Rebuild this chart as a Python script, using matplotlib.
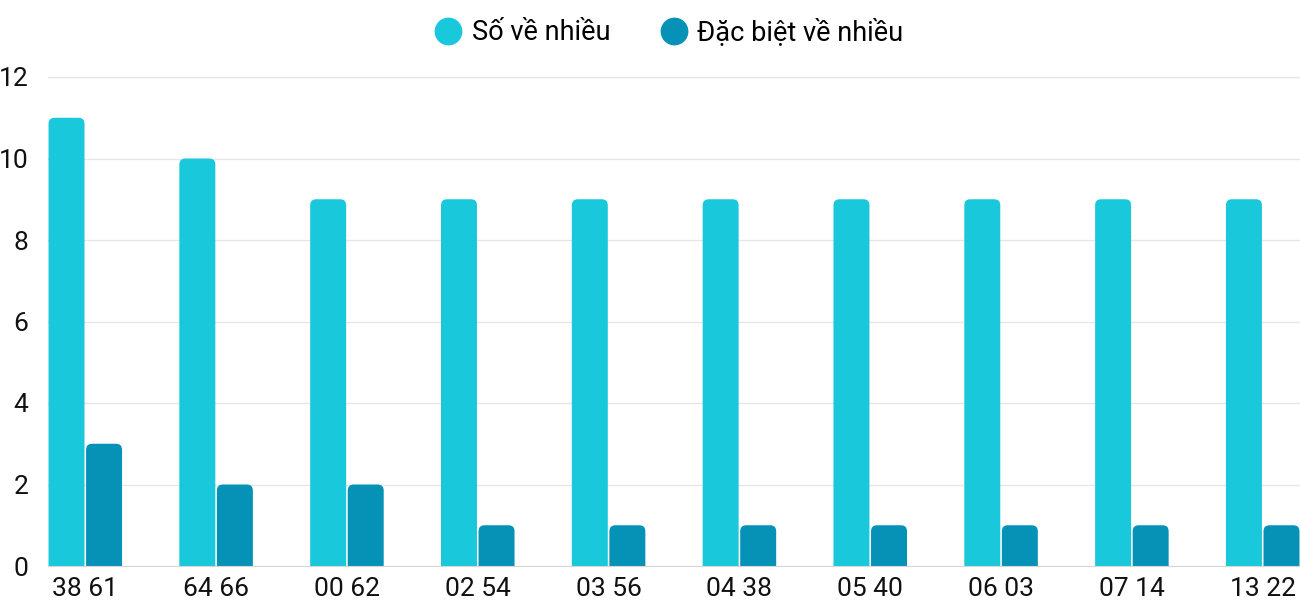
import numpy as np
import matplotlib.pyplot as plt
from matplotlib.patches import FancyBboxPatch
from matplotlib.lines import Line2D

plt.rcParams['font.family'] = ['Roboto', 'DejaVu Sans']

# data
categories = ['38 61', '64 66', '00 62', '02 54', '03 56', '04 38', '05 40', '06 03', '07 14', '13 22']
so_ve_nhieu = [11, 10, 9, 9, 9, 9, 9, 9, 9, 9]
dac_biet_ve_nhieu = [3, 2, 2, 1, 1, 1, 1, 1, 1, 1]
series_names = ['Số về nhiều', 'Đặc biệt về nhiều']
colors = ['#1ac8db', '#0592b6']

fig = plt.figure(figsize=(13, 6), dpi=100)
ax = fig.add_axes([48 / 1300, 34 / 600, 1252 / 1300, 489 / 600])

x = np.arange(len(categories))
w = 0.275
gap = 0.012
ymax = 12

ax.set_xlim(-0.285, len(categories) - 1 + 0.285)
ax.set_ylim(0, ymax)

# rounded top corners: radius in px converted to data units
rx = 6 / 130.8
ry = 6 / (489 / ymax)
for vals, off, c in [(so_ve_nhieu, -w / 2 - gap / 2, colors[0]),
                     (dac_biet_ve_nhieu, w / 2 + gap / 2, colors[1])]:
    for xi, v in zip(x, vals):
        p = FancyBboxPatch((xi + off - w / 2, -ry), w, v + ry,
                           boxstyle=f"round,pad=0,rounding_size={rx}",
                           mutation_aspect=ry / rx,
                           facecolor=c, edgecolor='none', zorder=3)
        ax.add_patch(p)

ax.set_yticks(range(0, ymax + 1, 2))
ax.grid(axis='y', color='#e6e6e6', linewidth=1, zorder=0)
ax.set_axisbelow(True)
for s in ['top', 'right', 'left']:
    ax.spines[s].set_visible(False)
ax.spines['bottom'].set_color('#d6d6d6')
ax.spines['bottom'].set_zorder(4)
ax.axhline(ymax, color='#eeeeee', linewidth=1, clip_on=False, zorder=0)

ax.set_xticks(x)
ax.set_xticklabels(categories)
ax.tick_params(axis='both', length=0, labelsize=19, colors='#111111')
ax.tick_params(axis='x', pad=8)
ax.tick_params(axis='y', pad=14)

handles = [Line2D([], [], marker='o', linestyle='none', markersize=20,
                  markerfacecolor=c, markeredgecolor='none') for c in colors]
fig.legend(handles, series_names, loc='upper center', bbox_to_anchor=(0.514, 1.01),
           ncol=2, frameon=False, fontsize=19.5, handletextpad=0.3,
           columnspacing=1.8, handlelength=1.1)

fig.savefig('out.png', dpi=100, facecolor='white')
